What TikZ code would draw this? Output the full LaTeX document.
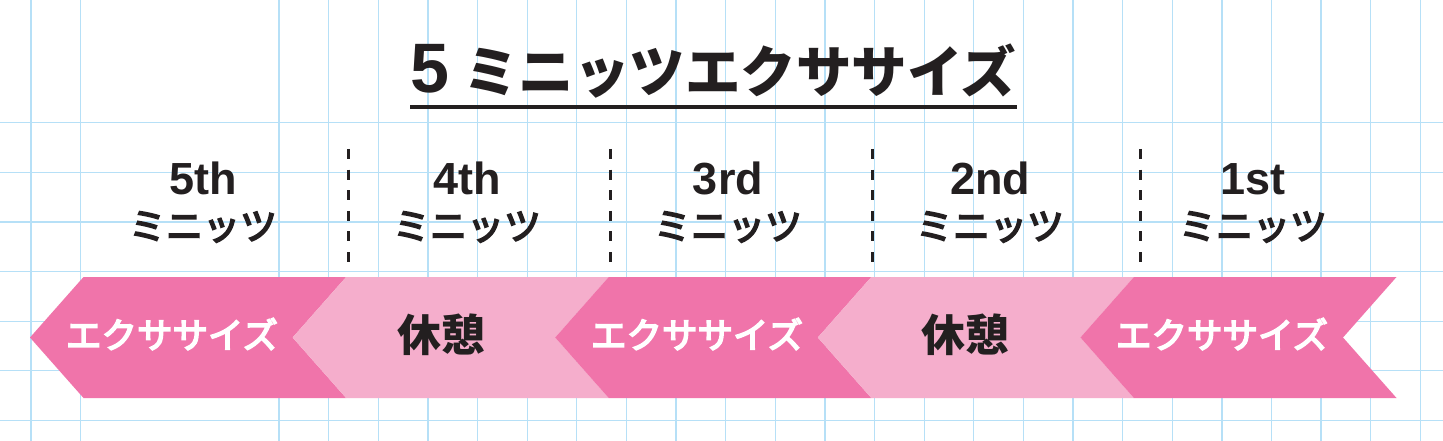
\documentclass[tikz,border=0pt]{standalone}
\usepackage{fontspec}
\setmainfont{Liberation Sans}
\newfontfamily\jpfont{Noto Sans CJK JP}
\newfontfamily\jpmid{Noto Sans CJK JP}[FakeBold=4.5]
\usetikzlibrary{positioning, calc}
\definecolor{gridblue}{RGB}{182,224,247}
\definecolor{exdark}{RGB}{240,116,170}
\definecolor{restlight}{RGB}{245,174,204}
\definecolor{inkblack}{RGB}{35,31,32}
\begin{document}
\begin{tikzpicture}[x=1pt, y=-1pt,
    gridline/.style={draw=gridblue, line width=1.3pt},
    sepline/.style={draw=inkblack, line width=3pt, dash pattern=on 10pt off 10.6pt},
    ordtext/.style={inkblack, font=\bfseries\fontsize{45}{45}\selectfont, inner sep=0pt, anchor=base},
    mintext/.style={inkblack, font=\jpmid\fontsize{37}{37}\selectfont, inner sep=0pt},
    extext/.style={white, font=\jpmid\fontsize{35.5}{35.5}\selectfont, inner sep=0pt},
    resttext/.style={inkblack, font=\jpfont\bfseries\fontsize{44}{44}\selectfont, inner sep=0pt}]
  \useasboundingbox (0,0) rectangle (1443,441);
  \fill[white] (0,0) rectangle (1443,441);
  % grid paper
  \foreach \k in {0,1,5,6,...,28}
    \draw[gridline] ({31+49.62*\k},0) -- ({31+49.62*\k},441);
  \foreach \j in {0,...,6}
    \draw[gridline] (0,{122.7+49.62*\j}) -- (1443,{122.7+49.62*\j});
  % title
  \node (title) [inkblack, anchor=base west, inner sep=0pt] at (410,93)
    {\bfseries\fontsize{70}{70}\selectfont 5\hspace{14pt}\jpfont\fontsize{55.5}{55.5}\selectfont ミニッツエクササイズ};
  \draw[inkblack, line width=4pt] (410,107) -- (1017,107);
  % column heads
  \foreach \x/\o [count=\i] in {203/5th, 467/4th, 728/3rd, 990/2nd, 1253/1st} {
    \node (ord\i) [ordtext] at (\x,194) {\o};
    \node (min\i) [mintext] at (\x,227) {ミニッツ};
  }
  \foreach \x in {348, 610, 872, 1140}
    \draw[sepline] (\x,149) -- (\x,262);
  % chevrons
  \foreach \t/\c in {30/exdark, 292.6/restlight, 555.2/exdark, 817.8/restlight, 1080.4/exdark}
    \fill[\c] (\t,337.5) -- ++(53.5,-60.5) -- ++(262.6,0) -- ++(-53.5,60.5)
      -- ++(53.5,60.5) -- ++(-262.6,0) -- cycle;
  \node (ex1) [extext] at (172,334) {エクササイズ};
  \node (rest1) [resttext] at (441,335) {休憩};
  \node (ex2) [extext] at (697,334) {エクササイズ};
  \node (rest2) [resttext] at (965,335) {休憩};
  \node (ex3) [extext] at (1222,334) {エクササイズ};
\end{tikzpicture}
\end{document}
